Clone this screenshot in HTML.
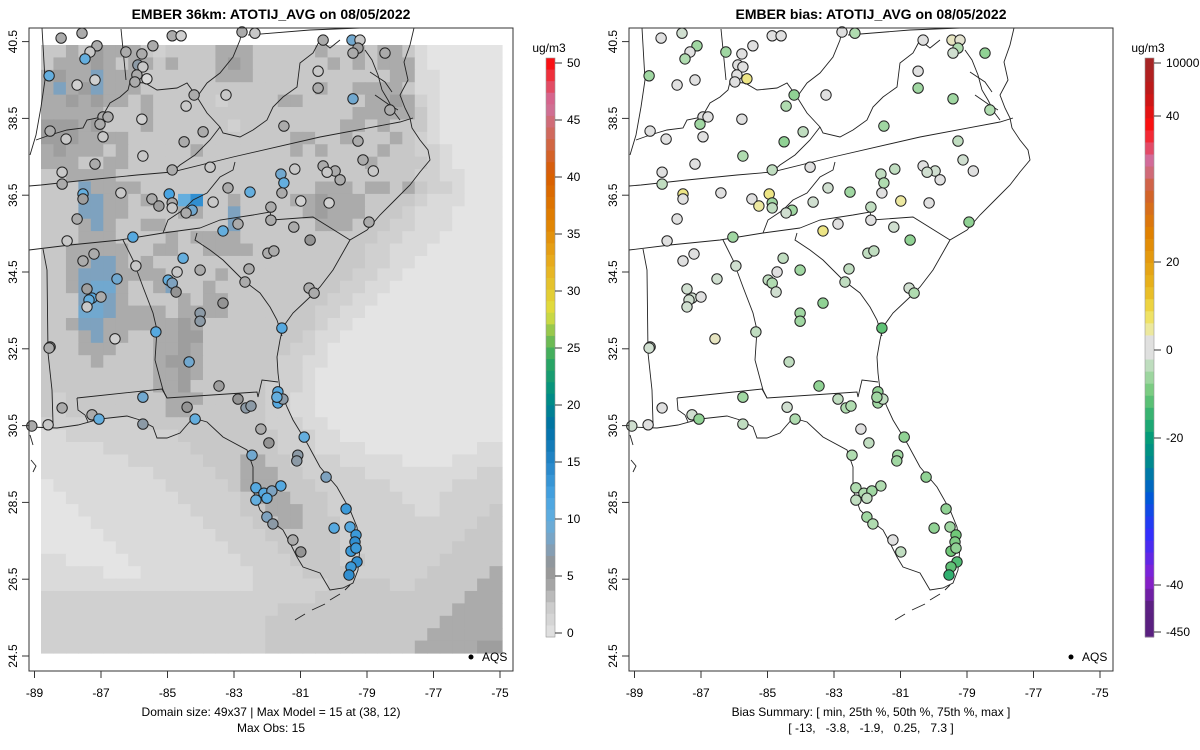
<!DOCTYPE html>
<html><head><meta charset="utf-8">
<style>
html,body{margin:0;padding:0;background:#fff;}
svg{display:block;font-family:"Liberation Sans",Arial,sans-serif;}
</style></head>
<body>
<svg id="chart" width="1200" height="750" viewBox="0 0 1200 750">
<text x="271" y="19" text-anchor="middle" font-size="14" font-weight="bold">EMBER 36km: ATOTIJ_AVG on 08/05/2022</text>
<text x="871" y="19" text-anchor="middle" font-size="14" font-weight="bold">EMBER bias: ATOTIJ_AVG on 08/05/2022</text>
<text x="271" y="716" text-anchor="middle" font-size="12">Domain size: 49x37 | Max Model = 15 at (38, 12)</text>
<text x="271" y="732" text-anchor="middle" font-size="12">Max Obs: 15</text>
<text x="871" y="716" text-anchor="middle" font-size="12">Bias Summary: [ min, 25th %, 50th %, 75th %, max ]</text>
<text x="871" y="732" text-anchor="middle" font-size="12" xml:space="preserve">[ -13,   -3.8,   -1.9,   0.25,   7.3 ]</text>
</svg>
<script>
// ---------- data ----------
const xTicks = [-89,-87,-85,-83,-81,-79,-77,-75];
const yTicks = [24.5,26.5,28.5,30.5,32.5,34.5,36.5,38.5,40.5];
const obsTicks = [0,5,10,15,20,25,30,35,40,45,50];
const biasTickLabels = ["10000","40","20","0","-20","-40","-450"];
const biasTickVals = [10000,40,20,0,-20,-40,-450];

const siteLon = [-88.20,-87.57,-87.12,-87.33,-87.48,-88.56,-87.72,-87.18,-86.25,-85.77,-85.44,-85.89,-85.74,-85.92,-85.62,-85.98,-84.86,-84.59,-84.20,-84.44,-83.24,-82.76,-82.37,-86.94,-86.79,-87.03,-85.77,-88.53,-88.05,-86.94,-83.93,-84.50,-85.74,-87.18,-88.17,-88.17,-84.86,-83.72,-81.50,-80.47,-80.47,-87.54,-87.54,-86.40,-84.95,-84.86,-85.47,-85.26,-84.86,-84.26,-84.44,-83.63,-83.18,-82.52,-81.59,-81.50,-81.17,-81.56,-80.99,-81.89,-81.89,-83.33,-82.88,-81.20,-80.71,-87.72,-88.02,-86.04,-81.98,-81.80,-87.54,-87.21,-84.53,-84.02,-84.71,-85.95,-82.55,-82.67,-86.52,-84.98,-84.86,-87.42,-87.27,-87.36,-87.00,-87.42,-84.74,-83.33,-84.02,-84.02,-80.74,-80.59,-81.56,-85.35,-86.58,-88.53,
-79.45,-79.21,-79.27,-79.42,-78.46,-79.42,-78.31,-79.27,-79.12,-78.81,-80.32,-79.96,-80.20,-79.81,-80.14,-78.94,-80.32,
-88.56,-84.35,-83.45,-85.74,-88.17,-87.27,-87.06,-89.08,-88.59,-85.74,-84.41,-84.17,-82.88,-82.64,-82.49,-81.68,-81.68,-81.53,-81.71,-82.19,-81.95,-80.89,-82.46,-81.08,-81.11,-80.23,-81.59,-82.34,-82.10,-81.86,-82.01,-82.34,-82.01,-81.83,-79.63,-79.99,-79.51,-79.33,-79.36,-79.48,-79.33,-79.30,-79.48,-79.54,-81.23,-80.99];
const siteLat = [40.59,40.72,40.39,40.23,40.05,39.61,39.37,39.50,40.23,40.18,40.39,39.89,39.84,39.63,39.53,39.45,40.65,40.65,39.11,38.82,39.11,40.75,40.72,38.54,38.54,38.35,38.48,38.17,37.96,38.02,38.15,37.89,37.52,37.31,37.10,36.79,37.16,37.23,38.30,39.73,39.29,36.53,36.40,36.56,36.53,36.30,36.40,36.22,36.17,36.11,36.04,36.32,36.69,36.58,37.05,36.82,37.18,36.56,36.35,36.19,35.85,35.57,35.75,35.67,35.33,35.88,35.31,35.41,34.99,35.05,34.79,34.97,34.86,34.55,34.50,34.66,34.58,34.24,34.32,34.29,34.21,34.06,33.82,33.77,33.85,33.59,33.98,33.69,33.43,33.22,34.08,33.95,33.04,32.94,32.76,32.55,
40.54,40.54,40.33,40.20,40.20,39.01,38.72,37.91,37.42,37.13,37.26,37.13,37.10,36.90,36.30,35.80,40.54,
32.52,32.16,31.53,31.24,30.96,30.78,30.67,30.49,30.52,30.54,30.98,30.67,31.19,30.96,31.01,31.38,31.09,31.19,31.24,30.41,30.05,30.20,29.73,29.73,29.58,29.16,28.93,28.88,28.74,28.80,28.61,28.56,28.12,27.94,28.33,27.83,27.86,27.65,27.47,27.23,27.31,26.95,26.82,26.61,27.52,27.21];
const siteObs = [4,4,4,3,10,10,2,2,4,4,4,7,3,4,1,4,4,2,4,3,3,4,3,4,4,4,2,4,3,3,4,4,3,4,3,4,4,3,4,3,4,10,5,3,12,4,4,5,3,9,4,3,4,10,9,10,3,4,2,4,4,10,4,4,6,4,3,11,4,4,4,4,10,4,3,3,4,4,9,10,8,5,11,10,4,3,6,6,7,7,4,4,11,11,2,4,
9,3,5,4,4,9,4,4,4,3,4,4,3,4,2,4,4,
4,9,5,9,4,4,10,4,3,7,6,10,6,7,7,11,11,7,10,4,6,10,9,7,7,8,11,11,11,8,11,10,8,7,13,11,11,13,14,13,13,14,13,14,4,6];
const siteBias = [-0.5,-2,-5,-0.5,-4,-5,-0.5,-1,-5,-1,-1,0.5,-0.3,-1,4,-0.3,-1,-0.5,-6,-4,-1,-1,-4,-0.5,-0.3,-5,-1,-1,-1,-1,-3,-6,-4,-1,-1,-3,-3,-1,-5,-1,-5,4,-1,-1,4,-5,-1,3,-3,-5,-2,-2,-2,-5,-3,-4,-3,-1,3,-3,-1,4,-1,-2,-6,-1,-1,-5,-3,-3,-1,-1,-3,-5,-1,-2,-3,-3,-2,-3,-4,-2,-2,-2,-0.5,-2,-2,-6,-5,-5,-2,-4,-9,-3,2,-2,
2,1.5,-4,-2,-6,-5,-4,-3,-2,-1,-1,-2,-2,-1,-1,-6,-1,
-2,-3,-6,-5,-0.5,-2,-6,-2,-0.5,-3,-2,-4,-3,-4,-4,-6,-5,-3,-5,-1,-3,-6,-4,-5,-5,-6,-4,-4,-4,-5,-3,-3,-5,-4,-6,-6,-5,-8,-7,-8,-6,-10,-9,-12,-1,-3];

// model grid (49 rows x 37 cols), values in ug/m3 (hex digits)
const gridRows = [
"33435 44432 33334 44333 33433 43443 10000 00",
"34445 43443 43334 54333 33343 43444 10000 00",
"45448 44433 33334 44333 33333 33344 11000 00",
"48458 44433 33333 33333 33433 44443 11000 00",
"44545 44343 33332 33334 43333 34454 21000 00",
"44444 33343 33333 33333 33333 44444 31000 00",
"55545 33343 33333 23333 33334 43433 31000 00",
"55544 44333 33333 33333 44334 33343 21000 00",
"45444 34333 33433 33333 43433 33433 22100 00",
"44433 44333 33333 33333 33333 34333 32100 00",
"33444 43333 33333 33333 33333 33333 22110 00",
"33384 44433 33333 33333 33444 34434 32210 00",
"33388 44343 3ae33 43333 44544 43333 21110 00",
"33388 44333 34433 83333 34544 43332 11100 00",
"33348 43344 33333 83333 33444 33322 11100 00",
"33344 43333 43444 43333 33333 33221 11000 00",
"33444 44334 43344 44333 33333 32211 10000 00",
"33448 84343 33333 33333 33333 32211 00000 00",
"33488 84444 33334 33333 33333 22110 00000 00",
"33489 94334 83343 33333 33332 21100 00000 00",
"33389 84333 34344 33333 33322 11000 00000 00",
"33399 84444 34444 33333 33221 10000 00000 00",
"33488 44444 45433 33333 33211 00000 00000 00",
"33348 44334 45533 33333 32110 00000 00000 00",
"33344 43334 45433 33333 22100 00000 00000 00",
"33334 33334 55433 33332 21100 00000 00000 00",
"33333 33334 45433 33332 21000 00000 00000 00",
"33333 33334 45333 33322 21000 00000 00000 00",
"32333 33333 44433 33322 11000 00000 00000 00",
"32333 33333 44333 33322 11000 00000 00000 00",
"22222 22233 33333 33322 21100 00000 00000 00",
"11222 22222 23333 33332 22110 00000 00000 00",
"11111 22222 22333 33332 22111 10000 00000 11",
"11111 11222 22233 34433 22221 11110 00011 11",
"11111 11112 22223 34443 32222 21111 11111 22",
"01111 11111 22222 34443 33222 22211 11122 22",
"00111 11111 12222 23444 33322 22221 11222 22",
"00011 11111 11222 23344 43322 22222 11222 23",
"00001 11111 11122 22334 43332 22222 22222 33",
"00000 11111 11112 22233 33332 22222 22223 33",
"00000 01111 11111 22223 33332 22222 22233 33",
"11000 00111 11111 12222 33332 32222 22333 33",
"11111 00011 11111 11222 23333 22222 23333 34",
"11111 11111 11111 11222 22233 33322 33333 44",
"22222 22222 22222 22222 22333 33333 33334 44",
"22222 22222 22222 22223 33333 33333 33344 44",
"22222 22222 22222 22233 33333 33333 33444 44",
"22222 22222 22222 22233 33333 33333 34444 44",
"22222 22222 22222 22233 33333 33333 44444 55"];

// ---------- scales ----------
const X0 = 34.5, XPD = 33.25, Y0 = 656, YPD = 38.4;
function xs(lon){ return X0 + (lon + 89) * XPD; }
function ys(lat){ return Y0 - (lat - 24.5) * YPD; }

const NS = "http://www.w3.org/2000/svg";
const svg = document.getElementById("chart");
function el(tag, attrs, parent){ const e = document.createElementNS(NS, tag); for (const k in attrs) e.setAttribute(k, attrs[k]); (parent||svg).appendChild(e); return e; }

function hex2rgb(h){ return [parseInt(h.substr(1,2),16),parseInt(h.substr(3,2),16),parseInt(h.substr(5,2),16)]; }
function interp(stops, v){
  if (v <= stops[0][0]) return stops[0][1];
  if (v >= stops[stops.length-1][0]) return stops[stops.length-1][1];
  for (let i=0;i<stops.length-1;i++){
    const a=stops[i], b=stops[i+1];
    if (v>=a[0] && v<=b[0]){
      const t=(v-a[0])/(b[0]-a[0]); const A=hex2rgb(a[1]), B=hex2rgb(b[1]);
      return "rgb("+A.map((x,j)=>Math.round(x+(B[j]-x)*t)).join(",")+")";
    }
  }
}
const obsStops = [[0,"#e4e4e4"],[1,"#dadada"],[2,"#d0d0d0"],[3,"#c8c8c8"],[4,"#ababab"],[5,"#9e9e9e"],[6,"#949494"],[7,"#8c9aa6"],[8,"#7ea2bf"],[10,"#64aede"],[12,"#48a4e2"],[15,"#2585c8"],[18,"#0070a8"],[21,"#009080"],[24,"#30a860"],[26,"#80c050"],[28,"#e0e040"],[32,"#e8b020"],[36,"#e08000"],[40,"#d85c00"],[43,"#d06850"],[46,"#d070a0"],[48,"#e84050"],[50,"#ff0000"]];
const biasStops = [[-45,"#5a2080"],[-40,"#8a20d0"],[-32,"#3030ff"],[-26,"#0058d8"],[-20,"#008890"],[-16,"#009a7a"],[-12,"#30b070"],[-8,"#70c878"],[-4,"#b0dcb0"],[-1,"#e0e0e0"],[1,"#e0e0e0"],[3,"#ece8a0"],[6,"#f0e050"],[10,"#e8b820"],[20,"#e08000"],[27,"#d06030"],[32,"#d070a0"],[38,"#ff1010"],[44,"#c01818"],[50,"#a02828"]];
function obsColor(v){ return interp(obsStops, v); }
function biasColor(v){ return interp(biasStops, v); }

// ---------- map geometry (pixel outlines, left panel) ----------
const borders = [
 [[42,28],[45,80],[41,107],[36,135],[30,155]],
 [[121,29],[126,80]],
 [[36,140],[50,135],[67,130],[83,128],[87,120],[102,117],[110,103],[120,97],[128,90],[130,82],[145,83],[157,90],[177,88],[187,83],[197,97],[207,113],[220,127]],
 [[197,97],[207,83],[220,73],[233,57],[240,40],[242,29]],
 [[248,35],[310,30],[360,28]],
 [[220,127],[223,133],[240,137],[253,130],[267,120],[273,107],[283,97],[297,87],[300,63],[313,53],[320,40],[330,48],[340,40]],
 [[220,127],[210,140],[195,155],[180,165],[172,172]],
 [[29,186],[41,185],[87,180],[137,175],[172,172],[233,157],[320,137],[400,122],[413,118]],
 [[235,162],[233,170],[220,177],[207,193],[193,200],[183,210],[168,220],[163,233]],
 [[29,250],[70,245],[120,240],[163,233],[200,228]],
 [[200,228],[220,220],[253,215],[270,212],[272,220],[313,217],[350,240]],
 [[197,233],[195,240],[210,250],[223,260],[233,270],[243,280],[260,293],[270,307],[277,320],[282,336]],
 [[123,240],[133,260],[143,287],[153,313],[157,330],[155,360],[163,390],[167,398]],
 [[43,249],[47,270],[48,353],[52,390],[53,423]],
 [[77,398],[162,389],[167,398],[257,392],[258,397],[262,380],[278,382]],
 [[77,398],[78,410],[85,415],[88,422]]
];
const coast = [
 [[29,427],[57,428],[78,425],[100,419],[127,416],[140,420],[153,427],[157,438],[167,438],[180,433],[193,418],[207,422],[223,437],[247,450],[253,467],[253,490],[260,510],[270,520],[283,530],[290,543],[297,557],[303,567],[320,573],[330,590],[343,588],[353,583],[358,570],[360,547],[357,527],[350,510],[337,487],[320,467],[307,443],[293,420],[287,407],[280,390],[278,373],[277,357],[280,340],[283,327],[293,313],[310,297],[320,287],[333,270],[350,240],[367,230],[380,215],[395,200],[410,185],[420,172],[430,160],[428,150],[420,140],[412,128],[410,118],[405,108],[400,95],[408,80],[404,62],[410,45],[414,28]],
 [[365,50],[372,60],[378,75],[382,90],[388,100],[394,112],[400,120]],
 [[370,72],[385,82],[392,92]],
 [[375,95],[388,104],[398,110]],
 [[30,435],[33,445]],[[31,460],[36,466],[33,472]],
 [[295,620],[305,614]],[[312,610],[325,604]],[[330,600],[340,594]],[[345,590],[350,585]]
];

function drawPanel(off, isBias){
  const pfx = isBias ? "bias-" : "model-";
  const panel = el("g", {});
  
  
  if (!isBias){
    const gGrid = el("g", {}, panel);
    
    
    const cw = (502-41)/37, ch = (653-45)/49;
    gridRows.forEach((rowStr, r) => {
      const row = rowStr.replace(/ /g,"").padEnd(37, rowStr.slice(-1));
      for (let c=0;c<37;c++){
        const v = parseInt(row[c],16);
        const rc = el("rect", {x:(off+41+c*cw).toFixed(2), y:(45+r*ch).toFixed(2), width:(cw+0.6).toFixed(2), height:(ch+0.6).toFixed(2), fill:obsColor(v)}, gGrid);
        
        
      }
    });
  }
  const gMap = el("g", {transform:"translate("+off+",0)", fill:"none", stroke:"#222", "stroke-width":"0.9"}, panel);
  
  
  borders.concat(coast).forEach(pl => {
    const p = el("polyline", {points: pl.map(q=>q.join(",")).join(" ")}, gMap);
    
    
  });
  const gSites = el("g", {}, panel);
  
  
  for (let i=0;i<siteLon.length;i++){
    const fill = isBias ? biasColor(siteBias[i]) : obsColor(siteObs[i]);
    const c = el("circle", {cx:(off+xs(siteLon[i])).toFixed(1), cy:ys(siteLat[i]).toFixed(1), r:5.2, fill:fill, stroke:"#222", "stroke-width":"1"}, gSites);
    
    
  }
  const box = el("rect", {x:off+29, y:28, width:484, height:643, fill:"none", stroke:"#333", "stroke-width":"1"}, panel);
  
  
  const gx = el("g", {}, panel);
  
  
  el("line", {x1:off+xs(xTicks[0]), x2:off+xs(xTicks[xTicks.length-1]), y1:671, y2:671, stroke:"#333"}, gx);
  xTicks.forEach(t => {
    const x = off + xs(t);
    el("line", {x1:x, x2:x, y1:671, y2:678, stroke:"#333"}, gx);
    const tx = el("text", {x:x, y:697, "text-anchor":"middle", "font-size":"12"}, gx);
    tx.textContent = t;
    
    
  });
  const gy = el("g", {}, panel);
  
  
  yTicks.forEach(t => {
    const y = ys(t);
    el("line", {x1:off+22, x2:off+29, y1:y, y2:y, stroke:"#333"}, gy);
    const tx = el("text", {x:off+17, y:y, "text-anchor":"middle", "font-size":"12", transform:"rotate(-90 "+(off+17)+" "+y+")"}, gy);
    tx.textContent = t.toFixed(1);
    
    
  });
  const lg = el("g", {}, panel);
  
  
  el("circle", {cx:off+471, cy:657, r:2.5, fill:"#000"}, lg);
  const lt = el("text", {x:off+482, y:661, "font-size":"12"}, lg);
  lt.textContent = "AQS";
}

function drawColorbar(x, isBias){
  const g = el("g", {});
  
  
  const top = 58, bot = 637, n = isBias ? 48 : 50, h = (bot-top)/n;
  for (let i=0;i<n;i++){
    let col;
    if (isBias){ const v = 50 - (i+0.5)*(100/n) ; col = biasColor(v); }
    else { col = obsColor(50 - (i+0.5)); }
    el("rect", {x:x, y:(top+i*h).toFixed(2), width:9, height:(h+0.5).toFixed(2), fill:col}, g);
  }
  el("rect", {x:x, y:top, width:9, height:bot-top, fill:"none", stroke:"#999", "stroke-width":"0.6"}, g);
  const u = el("text", {x:x+3, y:52, "text-anchor":"middle", "font-size":"12"}, g);
  u.textContent = "ug/m3";
  if (!isBias){
    obsTicks.forEach(t => {
      const y = 633 - t * (633-63)/50;
      el("line", {x1:x+9, x2:x+16, y1:y, y2:y, stroke:"#333"}, g);
      const tx = el("text", {x:x+21, y:y+4, "font-size":"12"}, g);
      tx.textContent = t;
      
      
    });
  } else {
    const pos = {"10000":63,"40":116,"20":262,"0":350,"-20":438,"-40":585,"-450":632};
    biasTickVals.forEach((v, i) => {
      const y = pos[String(v)];
      el("line", {x1:x+9, x2:x+16, y1:y, y2:y, stroke:"#333"}, g);
      const tx = el("text", {x:x+21, y:y+4, "font-size":"12"}, g);
      tx.textContent = biasTickLabels[i];
      
      
    });
  }
}

drawPanel(0, false);
drawPanel(600, true);
drawColorbar(546, false);
drawColorbar(1145, true);
</script>
</body></html>
